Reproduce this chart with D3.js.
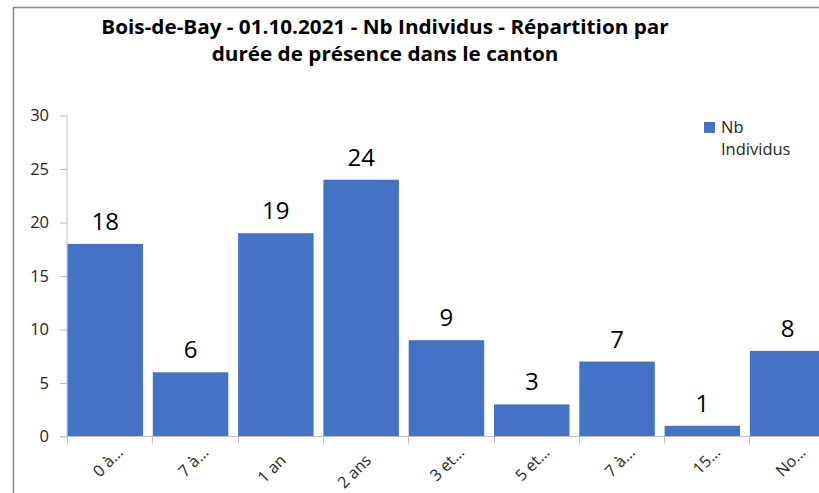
<!DOCTYPE html>
<html><head><meta charset="utf-8">
<script src="https://cdn.jsdelivr.net/npm/d3@7"></script>
<style>body{margin:0;background:#fff;} svg{display:block;}</style>
</head><body>
<svg id="c" width="819" height="493"></svg>
<script>
const categories = ["0 à…","7 à…","1 an","2 ans","3 et…","5 et…","7 à…","15…","No…"];
const values = [18, 6, 19, 24, 9, 3, 7, 1, 8];
const yTicks = [0, 5, 10, 15, 20, 25, 30];
const titleLines = ["Bois-de-Bay - 01.10.2021 - Nb Individus - Répartition par", "durée de présence dans le canton"];
const seriesName = ["Nb", "Individus"];

const svg = d3.select("#c");
const font = "'Open Sans', 'Liberation Sans', Arial, sans-serif";

// border
svg.append("path").attr("d","M13.5,493 V7.5 H819").attr("fill","none").attr("stroke","#8c8c8c").attr("stroke-width",1.5);

// title
svg.append("g").attr("transform","translate(385,0) scale(1.09,1)")
  .selectAll("text").data(titleLines).join("text")
  .attr("x", 0).attr("y",(d,i)=>34+i*27)
  .attr("text-anchor","middle").attr("font-family",font).attr("font-weight","bold")
  .attr("font-size",19).attr("fill","#000").text(d=>d);

const x = d3.scaleBand().domain(d3.range(categories.length)).range([67, 67+9*85.3]).padding(0);
const y = d3.scaleLinear().domain([0,30]).range([436.5,115.5]);

// y axis
const ya = svg.append("g").attr("transform","translate(67,0)")
  .call(d3.axisLeft(y).tickValues(yTicks).tickSize(7).tickPadding(11));
ya.select(".domain").attr("stroke","#bfbfbf").attr("d","M0,115.5V436.5");
ya.selectAll(".tick line").attr("stroke","#bfbfbf");
ya.selectAll(".tick text").attr("font-family",font).attr("font-size",16.5).attr("fill","#262626");

// bars
const bw = x.bandwidth()*0.885;
svg.append("g").selectAll("rect").data(values).join("rect")
  .attr("x",(d,i)=>x(i)+0.5).attr("y",d=>y(d)).attr("width",bw).attr("height",d=>y(0)-y(d))
  .attr("fill","#4472C4");

// x axis
svg.append("line").attr("x1",60).attr("x2",819).attr("y1",436.5).attr("y2",436.5).attr("stroke","#bfbfbf");
svg.append("g").selectAll("line").data(d3.range(categories.length+1)).join("line")
  .attr("x1",i=>Math.round(x(0)+i*x.step())+0.5).attr("x2",i=>Math.round(x(0)+i*x.step())+0.5)
  .attr("y1",436.5).attr("y2",443.5).attr("stroke","#bfbfbf");

// x labels
svg.append("g").selectAll("text").data(categories).join("text")
  .attr("transform",(d,i)=>`translate(${x(i)+x.bandwidth()/2+6},${445}) rotate(-45)`)
  .attr("x",d=>d.endsWith("…")?0:-11)
  .attr("dy","0.75em")
  .attr("text-anchor","end").attr("font-family",font).attr("font-size",16).attr("fill","#262626")
  .text(d=>d);

// data labels
svg.append("g").selectAll("text").data(values).join("text")
  .attr("x",(d,i)=>x(i)+0.5+bw/2).attr("y",d=>y(d)-14)
  .attr("text-anchor","middle").attr("font-family",font).attr("font-size",24).attr("fill","#000")
  .text(d=>d);

// legend
svg.append("rect").attr("x",704).attr("y",122).attr("width",11).attr("height",11).attr("fill","#4472C4");
svg.append("g").selectAll("text").data(seriesName).join("text")
  .attr("x",721).attr("y",(d,i)=>133+i*22).attr("font-family",font).attr("font-size",16.5).attr("fill","#262626")
  .text(d=>d);
</script>
</body></html>
